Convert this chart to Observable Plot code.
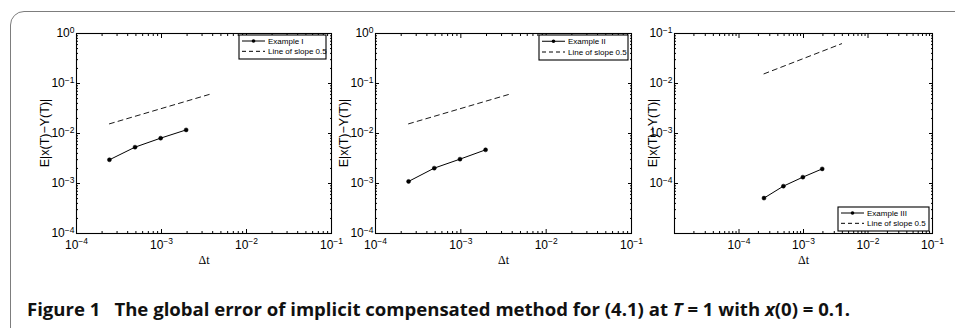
<!DOCTYPE html>
<html>
<head>
<meta charset="utf-8">
<script src="https://cdn.jsdelivr.net/npm/d3@7"></script>
<script src="https://cdn.jsdelivr.net/npm/@observablehq/plot@0.6"></script>
<style>
  body { margin: 0; background: #fff; }
  #wrap { position: relative; width: 955px; height: 328px; overflow: hidden; background: #fff; }
  #border { position: absolute; left: 10px; top: 11px; width: 990px; height: 360px;
            border: 1.5px solid #7d7d7d; border-radius: 14px; box-sizing: border-box; }
  .panel { position: absolute; top: 0; }
  #caption { position: absolute; left: 0; top: 290px; }
</style>
</head>
<body>
<div id="wrap"><div id="border"></div></div>
<script>
// ---- data ----
const dt = [2.44e-4, 4.88e-4, 9.77e-4, 1.95e-3];          // step sizes Δt
const slopeDt = [2.44e-4, 3.9e-3];                           // reference line end points
const slopeErr = [0.0156, 0.0625];
const errEx1 = [2.98e-3, 5.33e-3, 8.07e-3, 1.18e-2];
const errEx2 = [1.10e-3, 2.03e-3, 3.07e-3, 4.71e-3];
const errEx3 = [5.1e-5, 8.85e-5, 1.34e-4, 1.96e-4];
const seriesNames = ["Example I", "Example II", "Example III"];
const slopeName = "Line of slope 0.5";
const xTickExp12 = [-4, -3, -2, -1];
const yTickExp12 = [-4, -3, -2, -1, 0];
const xTickExp3 = [-4, -3, -2, -1];
const yTickExp3 = [-4, -3, -2, -1];
const xLabel = "Δt";
const yLabel = "E|x(T)\u2212Y(T)|";

const SANS = "'Liberation Sans', Arial, sans-serif";
const fmtExp = e => "10^" + String(e).replace("-", "\u2212");

function minorTicks(domain) {
  return d3.scaleLog().domain(domain).ticks().filter(v => Math.abs(Math.log10(v) - Math.round(Math.log10(v))) > 1e-6);
}
function majorTicks(domain) {
  return d3.scaleLog().domain(domain).ticks().filter(v => Math.abs(Math.log10(v) - Math.round(Math.log10(v))) <= 1e-6);
}

const panels = [
  {left: 20, width: 320, mL: 56, mR: 9, err: errEx1, name: seriesNames[0],
   xDomain: [1e-4, 1e-1], yDomain: [1e-4, 1], xExp: xTickExp12, yExp: yTickExp12,
   legend: {x: 239, y: 35, w: 87, h: 24}, yLabelX: 45},
  {left: 340, width: 300, mL: 35, mR: 9, err: errEx2, name: seriesNames[1],
   xDomain: [1e-4, 1e-1], yDomain: [1e-4, 1], xExp: xTickExp12, yExp: yTickExp12,
   legend: {x: 539, y: 35, w: 89, h: 25}, yLabelX: 344},
  {left: 640, width: 315, mL: 34, mR: 23, err: errEx3, name: seriesNames[2],
   xDomain: [1e-5, 1e-1], yDomain: [1e-5, 1e-1], xExp: xTickExp3, yExp: yTickExp3,
   legend: {x: 838, y: 207, w: 91, h: 24}, yLabelX: 653}
];

const H = 270, mT = 33, mB = 37;

for (const cfg of panels) {
  const pts = dt.map((d, i) => ({dt: d, err: cfg.err[i]}));
  const ref = slopeDt.map((d, i) => ({dt: d, err: slopeErr[i]}));
  const xMaj = majorTicks(cfg.xDomain), yMaj = majorTicks(cfg.yDomain);
  const xMin = minorTicks(cfg.xDomain), yMin = minorTicks(cfg.yDomain);
  const xLab = cfg.xExp.map(e => 10 ** e), yLab = cfg.yExp.map(e => 10 ** e);
  const xFmt = d => fmtExp(cfg.xExp[xLab.findIndex(v => Math.abs(v / d - 1) < 1e-9)]);
  const yFmt = d => fmtExp(cfg.yExp[yLab.findIndex(v => Math.abs(v / d - 1) < 1e-9)]);

  const tickMarks = [];
  for (const anchor of ["bottom", "top"]) {
    tickMarks.push(Plot.axisX({anchor, ticks: xMaj, tickSize: -4, fill: "none", label: null, stroke: "black"}));
    tickMarks.push(Plot.axisX({anchor, ticks: xMin, tickSize: -2, fill: "none", label: null, stroke: "black"}));
  }
  for (const anchor of ["left", "right"]) {
    tickMarks.push(Plot.axisY({anchor, ticks: yMaj, tickSize: -4, fill: "none", label: null, stroke: "black"}));
    tickMarks.push(Plot.axisY({anchor, ticks: yMin, tickSize: -2, fill: "none", label: null, stroke: "black"}));
  }

  const svg = Plot.plot({
    width: cfg.width, height: H,
    marginLeft: cfg.mL, marginRight: cfg.mR, marginTop: mT, marginBottom: mB,
    style: {background: "transparent", fontFamily: SANS, fontSize: "12px", color: "black", overflow: "visible"},
    x: {type: "log", domain: cfg.xDomain},
    y: {type: "log", domain: cfg.yDomain},
    marks: [
      ...tickMarks,
      Plot.axisX({anchor: "bottom", ticks: xLab, tickSize: 0, tickPadding: 7, tickFormat: xFmt, label: null, fill: "black"}),
      Plot.axisY({anchor: "left", ticks: yLab, tickSize: 0, tickPadding: 2, tickFormat: yFmt, label: null, fill: "black"}),
      Plot.frame({stroke: "black", strokeWidth: 1.1}),
      Plot.line(ref, {x: "dt", y: "err", stroke: "black", strokeWidth: 0.9, strokeDasharray: "5,4"}),
      Plot.line(pts, {x: "dt", y: "err", stroke: "black", strokeWidth: 1}),
      Plot.dot(pts, {x: "dt", y: "err", r: 2, fill: "black", stroke: "black", strokeWidth: 0.5}),
      Plot.text([xLabel], {text: d => d, frameAnchor: "bottom", dy: 27, textAnchor: "middle", lineAnchor: "middle",
                           fontFamily: "'Liberation Serif', 'DejaVu Serif', serif", fontSize: 12, fill: "black"})
    ]
  });

  // superscript exponents in tick labels
  d3.select(svg).selectAll('g[aria-label$="tick label"] text').each(function () {
    const s = this.textContent;
    if (!s.includes("^")) return;
    const [base, exp] = s.split("^");
    const t = d3.select(this);
    t.text(null);
    t.append("tspan").attr("font-size", "12px").text(base);
    t.append("tspan").attr("dy", "-0.55em").attr("font-size", "8.5px").text(exp);
  });

  // y-axis title
  const frameMidY = (mT + (H - mB)) / 2;
  d3.select(svg).append("text")
    .attr("transform", `translate(${cfg.yLabelX - cfg.left},${frameMidY}) rotate(-90)`)
    .attr("text-anchor", "middle").attr("dy", "0.35em")
    .attr("font-family", SANS).attr("font-size", "12.5px").attr("fill", "black")
    .text(yLabel);

  // legend box
  const L = cfg.legend;
  const g = d3.select(svg).append("g")
    .attr("transform", `translate(${L.x - cfg.left},${L.y})`)
    .attr("font-family", SANS).attr("font-size", "8px").attr("text-anchor", "start");
  g.append("rect").attr("width", L.w).attr("height", L.h).attr("fill", "white").attr("stroke", "black").attr("stroke-width", 1.1);
  const r1 = L.h * 0.25, r2 = L.h * 0.68;
  g.append("line").attr("x1", 3).attr("x2", 26).attr("y1", r1).attr("y2", r1).attr("stroke", "black");
  g.append("circle").attr("cx", 14.5).attr("cy", r1).attr("r", 1.8).attr("fill", "black");
  g.append("text").attr("x", 29).attr("y", r1).attr("dy", "0.35em").attr("text-anchor", "start").text(cfg.name);
  g.append("line").attr("x1", 3).attr("x2", 26).attr("y1", r2).attr("y2", r2).attr("stroke", "black").attr("stroke-dasharray", "4,3");
  g.append("text").attr("x", 29).attr("y", r2).attr("dy", "0.35em").attr("text-anchor", "start").text(slopeName);

  svg.classList.add("panel");
  svg.style.left = cfg.left + "px";
  svg.style.top = "0px";
  svg.style.position = "absolute";
  document.getElementById("wrap").appendChild(svg);
}

// caption
const cap = d3.select("#wrap").append("svg").attr("id", "caption").attr("width", 955).attr("height", 38);
const ct = cap.append("text").attr("x", 27).attr("y", 26)
  .attr("font-family", "'Open Sans', 'Noto Sans', sans-serif").attr("font-weight", "bold").attr("font-size", "17px")
  .attr("fill", "#111").attr("textLength", 823).attr("lengthAdjust", "spacingAndGlyphs")
  .attr("xml:space", "preserve");
ct.append("tspan").text("Figure 1\u2002 The global error of implicit compensated method for (4.1) at ");
ct.append("tspan").attr("font-style", "italic").text("T");
ct.append("tspan").text(" = 1 with ");
ct.append("tspan").attr("font-style", "italic").text("x");
ct.append("tspan").text("(0) = 0.1.");
</script>
</body>
</html>
